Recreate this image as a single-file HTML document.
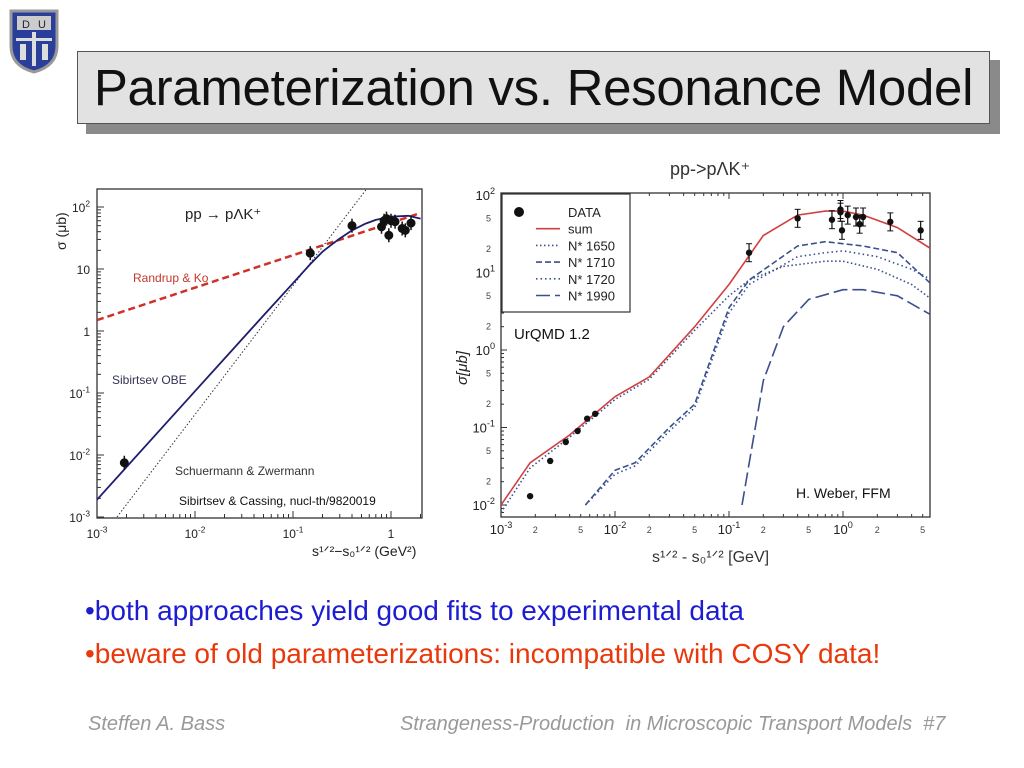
<!DOCTYPE html>
<html><head><meta charset="utf-8"><style>
body{margin:0;width:1024px;height:768px;background:#fff;position:relative;overflow:hidden;font-family:"Liberation Sans",sans-serif}
.abs{position:absolute}
</style></head><body>
<svg class="abs" style="left:8px;top:8px" width="52" height="66">
<path d="M3 3 H49 V38 Q49 58 26 64 Q3 58 3 38 Z" fill="#2a3f9a" stroke="#999" stroke-width="3"/>
<rect x="9" y="8" width="34" height="14" fill="#ccc"/><text x="14" y="20" font-size="11" fill="#223">D</text><text x="30" y="20" font-size="11" fill="#223">U</text>
<rect x="24" y="24" width="4" height="34" fill="#ddd"/><rect x="8" y="30" width="36" height="3" fill="#ddd"/>
<rect x="12" y="36" width="6" height="16" fill="#ddd"/><rect x="34" y="36" width="6" height="16" fill="#ddd"/>
</svg>
<div class="abs" style="left:86px;top:60px;width:914px;height:74px;background:#8a8a8a"></div>
<div class="abs" style="left:77px;top:51px;width:911px;height:71px;background:#e2e2e2;border:1px solid #555;font-size:51px;line-height:71px;text-align:center;color:#111;letter-spacing:-0.3px">Parameterization vs. Resonance Model</div>

<svg class="abs" style="left:0;top:0" width="1024" height="600" id="charts"></svg>

<div class="abs" style="left:85px;top:595px;font-size:28px;color:#1c1cd0">•both approaches yield good fits to experimental data</div>
<div class="abs" style="left:85px;top:638px;font-size:28px;color:#e8380c">•beware of old parameterizations: incompatible with COSY data!</div>
<div class="abs" style="left:88px;top:713px;font-size:20px;font-style:italic;color:#999">Steffen A. Bass</div>
<div class="abs" style="left:400px;top:713px;font-size:20px;font-style:italic;color:#999">Strangeness-Production&nbsp; in Microscopic Transport Models&nbsp; #7</div>

<script>
// Left chart data
const sibX=[0.001,0.002,0.01,0.05,0.1,0.15,0.2,0.25,0.3,0.4,0.55,0.7,1,1.5,2];
const sibY=[0.0019,0.0064,0.107,1.78,5.9,12,19,25,31,42,54,62,70,72,65];
const schX=[0.0016,0.57];
const schY=[0.001,200];
const ranX=[0.001,2];
const ranY=[1.5,80];
const lDataX=[0.0019,0.15,0.4,0.8,0.85,0.9,0.95,1,1.1,1.3,1.4,1.6];
const lDataY=[0.0075,18,50,48,60,65,35,60,58,45,42,55];
const lXTicks=["10^-3","10^-2","10^-1","1"];
const lYTicks=["10^-3","10^-2","10^-1","1","10","10^2"];
// Right chart data
const sumX=[0.001,0.0018,0.004,0.01,0.02,0.05,0.1,0.2,0.4,0.7,1,1.5,3,6];
const sumY=[0.01,0.035,0.08,0.25,0.45,2,7,30,55,62,62,55,38,20];
const n1650X=[0.001,0.0018,0.004,0.01,0.02,0.05,0.1,0.15,0.3,0.7,1,2,4,6];
const n1650Y=[0.008,0.03,0.075,0.23,0.42,1.8,5,8,12,14,14,11,7,4.5];
const n1710X=[0.0055,0.01,0.015,0.03,0.05,0.1,0.15,0.4,0.7,1.5,3,6];
const n1710Y=[0.01,0.028,0.035,0.1,0.2,3.5,8,22,25,22,18,7];
const n1720X=[0.0055,0.01,0.015,0.03,0.05,0.1,0.15,0.4,0.7,1,2,4,6];
const n1720Y=[0.01,0.025,0.032,0.09,0.18,3,7,16,18,19,16,11,8];
const n1990X=[0.13,0.2,0.3,0.5,1,1.5,3,6];
const n1990Y=[0.01,0.4,2,4.5,6,6,5,2.8];
const rDataX=[0.0018,0.0027,0.0037,0.0047,0.0057,0.0067,0.15,0.4,0.8,0.95,0.95,0.98,1.1,1.3,1.4,1.5,2.6,4.8];
const rDataY=[0.013,0.037,0.065,0.09,0.13,0.15,18,50,48,60,65,35,55,52,42,52,45,35];
const rXTicks=["10^-3","10^-2","10^-1","10^0"];
const rYTicks=["10^-2","10^-1","10^0","10^1","10^2"];

const svg=document.getElementById('charts');
const NS='http://www.w3.org/2000/svg';
function mk(t,a,p){const e=document.createElementNS(NS,t);for(const k in a)e.setAttribute(k,a[k]);(p||svg).appendChild(e);return e;}
function logAxis(x0,px0,dec){return v=>px0+(Math.log10(v)-Math.log10(x0))*dec;}
function pathOf(xs,ys,fx,fy){return xs.map((x,i)=>(i?'L':'M')+fx(x).toFixed(1)+' '+fy(ys[i]).toFixed(1)).join(' ');}
function supLabel(txt,x,y,anchor,size,g){
  const t=mk('text',{x:x,y:y,'font-size':size,'text-anchor':anchor,fill:'#222'},g);
  const p=txt.split('^');
  t.textContent=p[0];
  if(p[1]){const s=mk('tspan',{dy:-size*0.45,'font-size':size*0.7},t);s.textContent=p[1];}
  return t;
}

// LEFT CHART
const L=mk('g',{});


const lx=logAxis(0.001,97,98), ly=v=>517-(Math.log10(v)+3)*62;
const lclip=mk('clipPath',{id:'lc'},L);mk('rect',{x:97,y:189,width:325,height:329},lclip);
const lf=mk('rect',{x:97,y:189,width:325,height:329,fill:'none',stroke:'#333','stroke-width':1.3},L);


for(let d=-3;d<=0;d++)for(let m=1;m<10;m++){const v=m*Math.pow(10,d);const X=lx(v);if(X>422)break;const h=m==1?7:4;mk('line',{x1:X,y1:518,x2:X,y2:518-h,stroke:'#333'},L);}
for(let d=-3;d<=2;d++)for(let m=1;m<10;m++){const v=m*Math.pow(10,d);const Y=ly(v);if(Y<189)break;const h=m==1?7:4;mk('line',{x1:97,y1:Y,x2:97+h,y2:Y,stroke:'#333'},L);}
lXTicks.forEach((t,i)=>{const l=supLabel(t,lx(Math.pow(10,i-3)),538,'middle',12,L);});
lYTicks.forEach((t,i)=>{const l=supLabel(t,90,ly(Math.pow(10,i-3))+5,'end',12,L);});
const lg=mk('g',{'clip-path':'url(#lc)'},L);
let e;
e=mk('path',{d:pathOf(ranX,ranY,lx,ly),fill:'none',stroke:'#d0302a','stroke-width':2.5,'stroke-dasharray':'7,4'},lg);

e=mk('path',{d:pathOf(schX,schY,lx,ly),fill:'none',stroke:'#333','stroke-width':1,'stroke-dasharray':'1.5,2'},lg);

e=mk('path',{d:pathOf(sibX,sibY,lx,ly),fill:'none',stroke:'#1e1e6e','stroke-width':1.8,'stroke-linejoin':'round'},lg);

lDataX.forEach((x,i)=>{const X=lx(x),Y=ly(lDataY[i]);mk('line',{x1:X,y1:Y-7,x2:X,y2:Y+7,stroke:'#111','stroke-width':1.5},L);const c=mk('circle',{cx:X,cy:Y,r:4.5,fill:'#111'},L);});
[['pp → pΛK⁺',185,219,15,'#222','left-reaction-label'],['Randrup & Ko',133,282,12,'#c0392b','randrup-label'],['Sibirtsev OBE',112,384,12,'#335','sibirtsev-label'],['Schuermann & Zwermann',175,475,12,'#333','schuermann-label'],['Sibirtsev & Cassing, nucl-th/9820019',179,505,12,'#111','left-citation']].forEach(a=>{const t=mk('text',{x:a[1],y:a[2],'font-size':a[3],fill:a[4]},L);t.textContent=a[0];});
e=mk('text',{x:0,y:0,'font-size':14,fill:'#222',transform:'translate(66,250) rotate(-90)'},L);e.textContent='σ  (μb)';
e=mk('text',{x:312,y:556,'font-size':14,fill:'#222'},L);e.textContent='s¹ᐟ²−s₀¹ᐟ²  (GeV²)';

// RIGHT CHART
const R=mk('g',{});


const rx=logAxis(0.001,501,114), ry=v=>505-(Math.log10(v)+2)*77.5;
const rclip=mk('clipPath',{id:'rc'},R);mk('rect',{x:501,y:193,width:429,height:324},rclip);
e=mk('rect',{x:501,y:193,width:429,height:324,fill:'none',stroke:'#333','stroke-width':1.3},R);

for(let d=-3;d<=0;d++)for(let m=1;m<10;m++){const v=m*Math.pow(10,d);const X=rx(v);if(X>930)break;mk('line',{x1:X,y1:517,x2:X,y2:m==1?511:514,stroke:'#333'},R);mk('line',{x1:X,y1:193,x2:X,y2:m==1?199:196,stroke:'#333'},R);if(m==2||m==5){const t=mk('text',{x:X,y:533,'font-size':9,'text-anchor':'middle',fill:'#444'},R);t.textContent=m;}}
for(let d=-3;d<=2;d++)for(let m=1;m<10;m++){const v=m*Math.pow(10,d);const Y=ry(v);if(Y<193||Y>517)continue;mk('line',{x1:501,y1:Y,x2:m==1?507:504,y2:Y,stroke:'#333'},R);if(m==2||m==5){const t=mk('text',{x:491,y:Y+3,'font-size':9,'text-anchor':'end',fill:'#444'},R);t.textContent=m;}}
rXTicks.forEach((t,i)=>{const l=supLabel(t,rx(Math.pow(10,i-3)),534,'middle',13,R);});
rYTicks.forEach((t,i)=>{const l=supLabel(t,495,ry(Math.pow(10,i-2))+5,'end',13,R);});
const rg=mk('g',{'clip-path':'url(#rc)'},R);
const series=[[n1650X,n1650Y,'1.5,2.5','n1650-line'],[n1720X,n1720Y,'1.5,3','n1720-line'],[n1710X,n1710Y,'6,3','n1710-line'],[n1990X,n1990Y,'14,5','n1990-line']];
series.forEach(s=>{const p=mk('path',{d:pathOf(s[0],s[1],rx,ry),fill:'none',stroke:'#3a4f8c','stroke-width':1.6,'stroke-dasharray':s[2]},rg);});
e=mk('path',{d:pathOf(sumX,sumY,rx,ry),fill:'none',stroke:'#d04040','stroke-width':1.6},rg);

rDataX.forEach((x,i)=>{const X=rx(x),Y=ry(rDataY[i]);if(rDataY[i]>10){mk('line',{x1:X,y1:Y-9,x2:X,y2:Y+9,stroke:'#111','stroke-width':1.2},R);mk('line',{x1:X-3,y1:Y-9,x2:X+3,y2:Y-9,stroke:'#111'},R);mk('line',{x1:X-3,y1:Y+9,x2:X+3,y2:Y+9,stroke:'#111'},R);}const c=mk('circle',{cx:X,cy:Y,r:3.2,fill:'#111'},R);});
// legend
e=mk('rect',{x:502,y:194,width:128,height:118,fill:'#fff',stroke:'#333','stroke-width':1.2},R);

mk('circle',{cx:519,cy:212,r:5,fill:'#111'},R);
const leg=[['DATA',null,''],['sum','#d04040',''],['N* 1650','#3a4f8c','1.5,2.5'],['N* 1710','#3a4f8c','6,3'],['N* 1720','#3a4f8c','1.5,3'],['N* 1990','#3a4f8c','14,5']];
leg.forEach((l,i)=>{const Y=212+i*16.7;if(l[1])mk('line',{x1:536,y1:Y,x2:560,y2:Y,stroke:l[1],'stroke-width':1.6,'stroke-dasharray':l[2]},R);const t=mk('text',{x:568,y:Y+5,'font-size':13,fill:'#222'},R);t.textContent=l[0];});
[['pp->pΛK⁺',670,175,18,'#333','right-chart-title'],['UrQMD 1.2',514,339,15,'#111','urqmd-label'],['H. Weber,  FFM',796,498,14,'#111','right-citation'],['s¹ᐟ² - s₀¹ᐟ² [GeV]',652,562,16,'#333','right-x-axis-title']].forEach(a=>{const t=mk('text',{x:a[1],y:a[2],'font-size':a[3],fill:a[4]},R);t.textContent=a[0];});
e=mk('text',{x:0,y:0,'font-size':15,fill:'#222','font-style':'italic',transform:'translate(467,385) rotate(-90)'},R);e.textContent='σ[μb]';
</script>
</body></html>
